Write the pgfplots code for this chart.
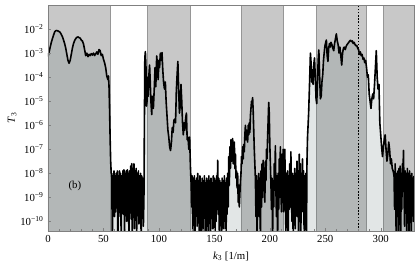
\documentclass[border=0pt]{standalone}
\usepackage{fontspec}
\setmainfont{Liberation Serif}
\usepackage{pgfplots}
\usepackage{pgfplotstable}
\pgfplotsset{compat=1.18}
\definecolor{bandgray}{RGB}{200,200,200}
\definecolor{bandedge}{RGB}{150,150,150}
\definecolor{framegray}{RGB}{128,128,128}
\definecolor{fillc}{RGB}{78,102,102}
\pgfplotstableread{
k T
0 7.1e-4
1 1.12e-3
2 1.78e-3
3 2.8e-3
4 4.0e-3
5 5.6e-3
6 7.6e-3
7 8.5e-3
8 8.7e-3
9 8.3e-3
10 7.9e-3
11 7.2e-3
12 6.0e-3
13 4.8e-3
14 3.5e-3
15 2.5e-3
16 1.6e-3
17 8.9e-4
18 5.0e-4
19 3.8e-4
20 5.0e-4
21 8.9e-4
22 1.6e-3
23 2.5e-3
24 3.3e-3
25 4.0e-3
26 4.5e-3
27 4.7e-3
28 4.4e-3
29 4.2e-3
30 3.5e-3
31 3.2e-3
32 2.4e-3
33 1.4e-3
34 7.9e-4
35 1.0e-3
36 7.1e-4
37 8.9e-4
38 7.9e-4
39 9.5e-4
40 8.3e-4
41 1.0e-3
42 7.9e-4
43 9.3e-4
44 1.12e-3
45 8.9e-4
46 1.4e-3
47 1.26e-3
48 7.9e-4
49 8.9e-4
50 5.6e-4
51 4.0e-4
52 2.5e-4
53 1.12e-4
54 7.9e-5
54.5 1.12e-4
55 4.5e-5
55.5 5.0e-6
56 3.2e-7
56.5 3.2e-8
57 1e-8
57.5 1e-8
58 1e-11
58.5 7.9e-9
59 3.2e-10
59.5 1.26e-8
60 1.6e-10
60.5 7.9e-9
61 2.5e-10
61.5 1e-8
62 4e-10
62.5 1.26e-8
63 1.6e-11
63.5 7.9e-9
64 3.2e-10
64.5 1.26e-8
65 1.6e-10
65.5 1e-8
66 1e-11
66.5 7.9e-9
67 4e-10
67.5 1.26e-8
68 2e-10
68.5 1.4e-8
69 2.5e-11
69.5 1e-8
70 3.2e-10
70.5 1.26e-8
71 1e-10
71.5 1.4e-8
72 3.2e-10
72.5 1e-8
73 1e-11
73.5 1.26e-8
74 4e-10
74.5 2e-8
75 1.26e-10
75.5 2.5e-8
76 2e-11
76.5 1.6e-8
77 3.2e-10
77.5 2.5e-8
78 5e-11
78.5 1.26e-8
79 4e-10
79.5 1.6e-8
80 1e-11
80.5 1e-8
81 2.5e-10
81.5 1.26e-8
82 7.9e-11
82.5 7.9e-9
83 4e-10
83.5 1e-8
84 1.26e-11
84.5 7.9e-9
85 3.2e-10
85.5 6.3e-9
86 6.3e-11
86.5 1e-9
86.9 1e-6
87.3 6.3e-4
87.8 1.15e-3
88.3 3.2e-4
88.8 6.3e-6
89.3 1e-5
89.8 1e-4
90.3 1.6e-5
91 1.26e-4
91.6 3.2e-4
92.2 6.3e-5
92.8 1e-5
93.5 2.8e-6
94.2 1.6e-5
95 5e-6
95.8 3.2e-5
96.5 2.5e-4
97.2 4e-5
98 7.6e-4
98.7 3.2e-4
99.3 7.9e-5
100 5e-4
100.6 2.5e-4
101.3 1e-3
102 5e-4
102.8 1.05e-3
103.5 2e-4
104.2 6.3e-5
105 3.2e-5
105.8 6.3e-5
106.5 1e-5
107.3 2.5e-6
108.1 6.3e-7
108.9 3.2e-7
109.7 1.26e-7
110.5 8.9e-8
111.3 2e-7
112 7.9e-7
112.8 5e-7
113.5 1.6e-6
114.3 1.8e-6
115 1.26e-6
115.7 2.5e-5
116.4 1.26e-4
117.1 4.5e-4
117.8 3.2e-5
118.5 3.2e-6
119.2 6.3e-6
119.9 5e-5
120.6 1e-5
121.3 1.26e-6
122 4e-7
122.7 1.26e-6
123.4 6.3e-7
124.1 2e-6
124.8 3.2e-6
125.5 2.5e-7
126.2 3.2e-7
127 1e-7
127.7 3.2e-7
128.4 2e-8
129.1 3.2e-9
129.5 4e-10
130 7.9e-9
130.5 3.2e-11
131 6.3e-9
131.5 2e-10
132 7.9e-9
132.5 1e-11
133 5e-9
133.5 3.2e-10
134 6.3e-9
134.5 6.3e-11
135 1e-8
135.5 1.6e-10
136 5e-9
136.5 1e-11
137 7.9e-9
137.5 2.5e-10
138 4e-9
138.5 1.6e-11
139 6.3e-9
139.5 1e-10
140 5e-9
140.5 4e-11
141 7.9e-9
141.5 2.5e-10
142 4e-9
142.5 1e-11
143 6.3e-9
143.5 1.6e-10
144 5e-9
144.5 4e-11
145 7.9e-9
145.5 3.2e-10
146 5e-9
146.5 1e-11
147 6.3e-9
147.5 1.6e-10
148 4e-9
148.5 5e-11
149 7.9e-9
149.5 2.5e-10
150 6.3e-9
150.5 1e-11
151 5e-9
151.5 1e-10
152 7.9e-9
152.5 3.2e-10
153 3.5e-8
153.5 2e-10
154 6.3e-9
154.5 2.5e-11
155 5e-9
155.5 2e-10
156 4e-9
156.5 1e-11
157 6.3e-9
157.5 1.6e-10
158 5e-9
158.5 5e-11
159 7.9e-9
159.5 2.5e-10
160 4e-9
160.5 1e-11
161 6.3e-9
161.5 2e-10
162 1e-8
162.5 4e-10
163 5e-8
163.5 3.2e-9
164 1.26e-7
164.5 1.6e-8
165 2.5e-7
165.5 3.2e-8
166 1e-7
166.5 2.8e-7
167 2.5e-8
167.5 7.9e-8
168 2e-7
168.5 1.6e-8
169 6.3e-8
169.5 6.3e-9
170 1.26e-8
170.5 2.5e-9
171 1e-8
171.5 6.3e-10
172 3.2e-9
172.5 4e-10
173 1.4e-9
173.5 5e-9
174 1e-8
174.5 5e-8
175 2.5e-8
175.5 1.26e-7
176 4e-8
176.5 1.6e-7
177 7.9e-8
177.5 4e-7
178 1e-6
178.5 2.5e-7
179 6.3e-7
179.5 3.2e-7
180 2e-7
180.5 1e-6
181 4e-7
181.5 1.26e-6
182 5e-7
182.5 2.5e-6
183 5e-6
183.5 1e-5
184 7.9e-6
184.5 1.4e-5
185 4e-6
185.5 6.3e-7
186 1e-7
186.5 2.5e-8
187 6.3e-9
187.5 1.6e-10
188 7.9e-9
188.5 3.2e-11
189 5e-9
189.5 3.2e-10
190 1e-8
190.5 1.6e-10
191 6.3e-9
191.5 1e-11
192 1.26e-8
192.5 4e-10
193 2.5e-8
193.5 1e-9
194 3.5e-8
194.5 2e-9
195 1.6e-8
195.5 6.3e-10
196 3.2e-8
196.5 5e-9
197 1e-7
197.5 4e-8
198 3.2e-7
198.5 1.6e-6
199 8.9e-6
199.5 3.2e-6
200 1.6e-7
200.5 2.5e-8
201 4e-9
201.5 3.2e-10
202 6.3e-9
202.5 1.6e-11
203 5e-9
203.5 4e-10
204 2.5e-8
204.5 2e-9
205 1.4e-7
205.5 2e-9
206 1.6e-10
206.5 7.9e-9
207 1e-11
207.5 1e-8
208 3.2e-10
208.5 4e-8
209 1e-9
209.5 1.26e-7
210 2.5e-9
210.5 2.5e-10
211 6.3e-8
211.5 6.3e-10
212 1e-7
212.5 2.5e-10
213 1.26e-8
213.5 1e-7
214 3.2e-9
214.5 3.2e-11
215 1e-8
215.5 2.5e-10
216 1.26e-8
216.5 1e-11
217 7.9e-9
217.5 3.2e-10
218 2.5e-8
218.5 4e-10
219 7.9e-8
219.5 1e-9
220 1e-10
220.5 1e-8
221 1e-11
221.5 7.9e-9
222 2.5e-10
222.5 1.6e-8
223 5e-11
223.5 1e-8
224 3.2e-10
224.5 3.2e-8
225 1.6e-10
225.5 1.26e-8
226 1e-11
226.5 6.3e-8
227 6.3e-10
227.5 2.5e-8
228 4e-11
228.5 1e-8
229 2.5e-10
229.5 4e-8
230 6.3e-10
230.5 1.26e-8
231 1e-11
231.5 7.9e-9
232 1e-10
232.5 1e-8
233 1e-11
233.5 3.2e-8
234 3.2e-7
235 3.2e-6
235.8 5e-5
236.6 1e-3
237.2 4e-4
237.8 6.3e-5
238.4 2e-4
239 5e-5
239.6 3.2e-4
240.3 6.3e-4
241 1e-4
241.7 1.26e-5
242.3 7.9e-6
243 6.3e-5
243.6 5e-4
244.2 1.35e-3
244.9 1.26e-4
245.6 1.26e-5
246.3 1.6e-5
247 6.3e-5
247.7 1.26e-4
248.4 5e-4
249 1e-3
249.7 2e-3
250.4 2.8e-3
251 3.5e-3
251.7 7.9e-4
252.4 4.5e-4
253.1 1.6e-3
253.8 2.5e-3
254.5 1.78e-3
255.2 2.8e-3
256 2.24e-3
256.8 1.6e-3
257.6 1.26e-3
258.4 2.5e-3
259.2 4e-3
260 6.3e-3
260.8 3.2e-3
261.6 2.24e-3
262.4 1e-3
263.2 1.78e-3
264 7.9e-4
264.8 3.2e-4
265.6 1e-3
266.4 1.6e-3
267.2 1.78e-3
268 1.4e-3
268.8 1.9e-3
269.6 2.24e-3
270.4 2.5e-3
271.2 2.8e-3
272 3.2e-3
272.8 3.4e-3
273.6 3.0e-3
274.4 3.2e-3
275.2 2.5e-3
276 2.8e-3
276.8 2.3e-3
277.6 2e-3
278.4 2.1e-3
279.2 1.6e-3
280 1.4e-3
280.8 8.9e-4
281.6 1.12e-3
282.4 7.9e-4
283.2 8.9e-4
284 5.6e-4
284.8 6.3e-4
285.6 4e-4
286.4 5e-4
287.2 2.5e-4
288 1e-4
288.8 1.26e-4
289.6 2e-5
290.4 1e-5
291.2 5e-6
292 1.26e-5
292.8 2e-5
293.6 1.26e-5
294.4 5e-5
295.2 2.5e-4
296 1.26e-3
296.8 1e-4
297.6 3.2e-5
298.4 5e-5
299.2 1.26e-6
300 4e-7
300.8 1.26e-7
301.6 5e-8
302.4 1.26e-7
303.2 2.5e-7
304 4e-7
304.8 1e-7
305.6 3.2e-8
306.4 6.3e-8
307.2 2e-7
308 1e-7
308.8 2.5e-8
309.6 4e-8
310.4 1.6e-8
311.2 1.26e-8
312 7.9e-9
312.5 3.2e-10
313 2.5e-8
313.5 6.3e-10
314 1.6e-11
314.5 1e-8
315 3.2e-10
315.5 1.26e-8
316 3.2e-11
316.5 1.6e-8
317 5e-10
317.5 2e-8
318 1e-11
318.5 1e-8
319 3.2e-10
319.5 2.5e-8
320 6.3e-9
320.5 8.9e-8
321 2e-9
321.5 6.3e-11
322 1.26e-8
322.5 3.2e-10
323 1e-8
323.5 1e-11
324 1.6e-8
324.5 6.3e-10
325 1e-8
325.5 4e-11
326 1.26e-8
326.5 2.5e-10
327 7.9e-9
327.5 1e-11
328 1e-8
328.5 3.2e-10
329 6.3e-9
329.5 1e-10
330 7.9e-9
}\data
\begin{document}
\begin{tikzpicture}
\begin{axis}[
  name=ax,
  scale only axis,
  width=366pt, height=226pt,
  ymode=log, log basis y=10, log origin y=infty,
  xmin=0, xmax=330,
  ymin=4e-11, ymax=1e-1,
  axis line style={draw=framegray},
  every tick/.style={framegray},
  tick align=inside,
  xtick={0,50,...,300},
  minor x tick num=4,
  ytick={1e-10,1e-9,1e-8,1e-7,1e-6,1e-5,1e-4,1e-3,1e-2},
  xtick pos=bottom, ytick pos=left,
  major tick length=3.5pt, minor tick length=2pt,
  /pgf/number format/assume math mode=true,
  yticklabel={\pgfmathtruncatemacro{\myE}{round(-\tick)}10\textsuperscript{−\myE}},
  tick label style={font=\fontsize{10.8}{12}\selectfont},
  yticklabel style={xshift=-1pt},
  xticklabel style={yshift=-1pt},
  xlabel={\textit{k}\textsubscript{3} [1/m]},
  ylabel={\textit{T}\textsubscript{3}},
  label style={font=\fontsize{10.8}{12}\selectfont},
  xlabel style={at={(axis description cs:0.5,-0.112)}, anchor=center},
  ylabel style={at={(axis description cs:-0.098,0.5)}, anchor=center},
  clip=true,
  axis on top,
]
\addplot[fill=bandgray, draw=bandedge, line width=0.4pt, forget plot] coordinates {(0,4e-11) (0,1e-1) (56.3,1e-1) (56.3,4e-11)} -- cycle;
\addplot[fill=bandgray, draw=bandedge, line width=0.4pt, forget plot] coordinates {(89.3,4e-11) (89.3,1e-1) (128.2,1e-1) (128.2,4e-11)} -- cycle;
\addplot[fill=bandgray, draw=bandedge, line width=0.4pt, forget plot] coordinates {(173.9,4e-11) (173.9,1e-1) (212.3,1e-1) (212.3,4e-11)} -- cycle;
\addplot[fill=bandgray, draw=bandedge, line width=0.4pt, forget plot] coordinates {(242.2,4e-11) (242.2,1e-1) (287.1,1e-1) (287.1,4e-11)} -- cycle;
\addplot[fill=bandgray, draw=bandedge, line width=0.4pt, forget plot] coordinates {(302.4,4e-11) (302.4,1e-1) (330,1e-1) (330,4e-11)} -- cycle;
\addplot[draw=none, fill=fillc, fill opacity=0.165, forget plot] table[x=k, y=T] {\data} \closedcycle;
\addplot[black, line width=1.6pt, line join=round, no marks] table[x=k, y=T] {\data};
\addplot[black, line width=1.2pt, dash pattern=on 1.6pt off 1.6pt, no marks] coordinates {(280,4e-11) (280,1e-1)};
\node[font=\fontsize{10.8}{12}\selectfont] at (axis cs:24.3,2.9e-9) {(b)};
\end{axis}
\pgfresetboundingbox
\path ([xshift=-48pt,yshift=-33pt]ax.south west) rectangle ([xshift=1pt,yshift=5pt]ax.north east);
\end{tikzpicture}
\end{document}
